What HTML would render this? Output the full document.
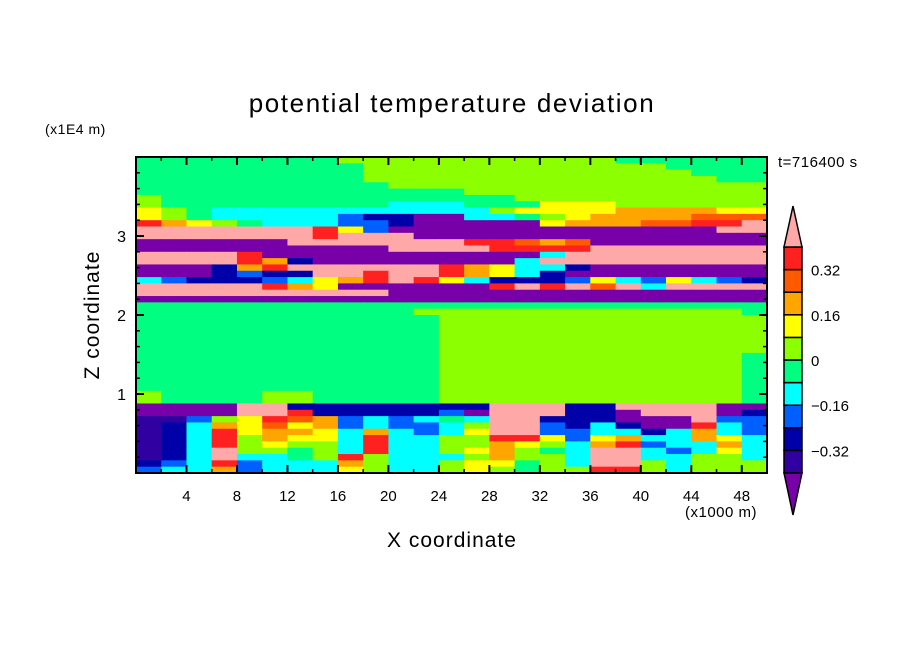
<!DOCTYPE html>
<html><head><meta charset="utf-8"><style>
body{margin:0;background:#fff;}
svg{display:block;font-family:"Liberation Sans",sans-serif;}
</style></head><body>
<svg id="chart" width="904" height="654" viewBox="0 0 904 654" xmlns="http://www.w3.org/2000/svg">
<rect width="904" height="654" fill="#fff"/>
<text x="452" y="112" text-anchor="middle" font-size="26" letter-spacing="1.6">potential temperature deviation</text>
<text x="45" y="134" font-size="14" letter-spacing="0.5">(x1E4 m)</text>
<text x="778" y="167" font-size="15" letter-spacing="0.5">t=716400 s</text>
<text transform="translate(99,315) rotate(-90)" text-anchor="middle" font-size="21" letter-spacing="1">Z coordinate</text>
<text x="452" y="547" text-anchor="middle" font-size="21" letter-spacing="1">X coordinate</text>
<text x="685" y="517" font-size="15" letter-spacing="0.5">(x1000 m)</text>
<g id="field"></g>
<g id="axes"></g>
<g id="cbar"></g>
</svg>
<script>
// ---- data ----
const xCategoriesKm = [0, 50];
const zRange = [0, 4];
const xTickLabels = [4, 8, 12, 16, 20, 24, 28, 32, 36, 40, 44, 48];
const yTickLabels = [1, 2, 3];
const levels = [-0.4, -0.32, -0.24, -0.16, -0.08, 0, 0.08, 0.16, 0.24, 0.32, 0.4];
const colorbarLabels = ["0.32", "0.16", "0", "\u22120.16", "\u22120.32"];
const colorbarLabelValues = [0.32, 0.16, 0, -0.16, -0.32];
const codeValues = {P:-0.45,I:-0.36,D:-0.28,B:-0.2,C:-0.12,G:-0.04,L:0.04,Y:0.12,O:0.2,R:0.28,E:0.36,K:0.45};
// grid rows top (z=4) to bottom (z=0), 25 columns of 2 km, 50 rows of 0.08
const fieldRows = [
"GGGGGGGGLLLLLLLLLLLGGGGGG",
"GGGGGGGGGLLLLLLLLLLLLGGGG",
"GGGGGGGGGLLLLLLLLLLLLLGGG",
"GGGGGGGGGLLLLLLLLLLLLLLGG",
"GGGGGGGGGGLLLLLLLLLLLLLLL",
"GGGGGGGGGGGGGLLLLLLLLLLLL",
"LGGGGGGGGGGGGGGLLLLLLLLLL",
"LGGGGGGGGGCCCGGGYYYLLLLLL",
"YLGCCCCCCCCCCCLYYYYOOOOYY",
"YLGCCCCCBDDPPCCGLYOOOORRR",
"EOYLGCCCBBDPPPPPYOOORREEK",
"KKKKKKKEYBPPPPPPPPPPPPPKK",
"KKKKKKKEKKKPPPPPPPPPPPPPP",
"PPPPPPKKKKKKKEERORPPPPPPP",
"PPPPPPPPPPKKKKEEEEKKKKKKK",
"KKKKEPPPPPPPPPPPCKKKKKKKK",
"KKKKEODPPPPPPPPCKKKKKKKKK",
"PPPDOEKKKKKKEOYCCDPPPPPPP",
"PPPDBDDKKEKKEOYCDPPPPPPPP",
"CBDDDBCYOEKEYCDDDBYCBYCBD",
"KKKKKEOYPPPPPPEKEKRKCKKKK",
"KKKKKKKKKKPPPPPPPPPPPPPPP",
"PPPPPPPPPPPPPPPPPPPPPPPPP",
"GGGGGGGGGGGGGGGGGGGGGGGGG",
"GGGGGGGGGGGLLLLLLLLLLLLLG",
"GGGGGGGGGGGGLLLLLLLLLLLLL",
"GGGGGGGGGGGGLLLLLLLLLLLLL",
"GGGGGGGGGGGGLLLLLLLLLLLLL",
"GGGGGGGGGGGGLLLLLLLLLLLLL",
"GGGGGGGGGGGGLLLLLLLLLLLLL",
"GGGGGGGGGGGGLLLLLLLLLLLLL",
"GGGGGGGGGGGGLLLLLLLLLLLLG",
"GGGGGGGGGGGGLLLLLLLLLLLLG",
"GGGGGGGGGGGGLLLLLLLLLLLLG",
"GGGGGGGGGGGGLLLLLLLLLLLLG",
"GGGGGGGGGGGGLLLLLLLLLLLLG",
"GGGGGGGGGGGGLLLLLLLLLLLLG",
"LGGGGLLGGGGGLLLLLLLLLLLLG",
"LGGGGLLGGGGGLLLLLLLLLLLLG",
"PPPPKKDDDDDDDDKKKDDKKKKPP",
"PPPPKKEDDDDDBPKKKDDPKKKPD",
"IIBLYEROBCBCGCKKDDDPPPKBB",
"IDCOYRYOBCBBCLKKBDCDPPECB",
"IDCEYOOYCOCBCYKKBBCCDCOCB",
"IDCELOYYCECCLLEEYBYOCCOYC",
"IDCELYLLCECCLLOYLCOEBCCOC",
"IDCKLLGLCECCLYOLGCKKCBCYC",
"IDCKCCGLELCCCLOLLCKKCCLLC",
"DBCEBCCCOLCCLYYGLCKKLCLLL",
"BCCOBCCCYLCCLYLGLLEELCLLL"
];
</script>
<script>
const NS = "http://www.w3.org/2000/svg";
const PL = 136, PR = 767, PT = 157, PB = 473;
const colors = ["#7800a8","#3000a0","#0000a8","#0060ff","#00ffff","#00ff80","#8cff00","#ffff00","#ffa500","#ff5a00","#ff2020","#ffa8a8"];
function xScale(v){return PL + (v - xCategoriesKm[0]) / (xCategoriesKm[1] - xCategoriesKm[0]) * (PR - PL);}
function yScale(v){return PB - (v - zRange[0]) / (zRange[1] - zRange[0]) * (PB - PT);}
function colorFor(v){let i=0;while(i<levels.length && v>=levels[i]) i++;return colors[i];}
function mk(tag, attrs, parent){const e=document.createElementNS(NS,tag);for(const k in attrs)e.setAttribute(k,attrs[k]);parent.appendChild(e);return e;}

const field = document.getElementById("field");
const nRows = fieldRows.length, nCols = fieldRows[0].length;
const dxKm = (xCategoriesKm[1]-xCategoriesKm[0])/nCols, dz = (zRange[1]-zRange[0])/nRows;
fieldRows.forEach((row, r) => {
  for (let c = 0; c < nCols; c++) {
    const v = codeValues[row[c]];
    const x0 = xScale(c*dxKm), x1 = xScale((c+1)*dxKm);
    const zTop = zRange[1] - r*dz, zBot = zTop - dz;
    const y0 = yScale(zTop), y1 = yScale(zBot);
    const rect = mk("rect", {x:x0.toFixed(2), y:y0.toFixed(2), width:(x1-x0+0.6).toFixed(2), height:(y1-y0+0.6).toFixed(2), fill:colorFor(v)}, field);
    
    
  }
});

const axes = document.getElementById("axes");
const frame = mk("rect", {x:PL, y:PT, width:PR-PL, height:PB-PT, fill:"none", stroke:"#000", "stroke-width":2}, axes);


for (let k = 2; k < 50; k += 2) {
  const x = xScale(k), major = (k % 4 === 0), L = major ? 8 : 4;
  const t1 = mk("line", {x1:x, x2:x, y1:PB, y2:PB-L, stroke:"#000", "stroke-width":major?2:1.5}, axes);
  
  
  const t2 = mk("line", {x1:x, x2:x, y1:PT, y2:PT+L, stroke:"#000", "stroke-width":major?2:1.5}, axes);
  
  
}
xTickLabels.forEach(v => {
  const t = mk("text", {x:xScale(v), y:501, "text-anchor":"middle", "font-size":15}, axes);
  t.textContent = v;
  
  
});
for (let k = 1; k < 20; k++) {
  const z = k*0.2, y = yScale(z), major = (k % 5 === 0), L = major ? 8 : 4;
  const t1 = mk("line", {x1:PL, x2:PL+L, y1:y, y2:y, stroke:"#000", "stroke-width":major?2:1.5}, axes);
  
  
  const t2 = mk("line", {x1:PR, x2:PR-L, y1:y, y2:y, stroke:"#000", "stroke-width":major?2:1.5}, axes);
  
  
}
yTickLabels.forEach(v => {
  const t = mk("text", {x:126, y:yScale(v)+6, "text-anchor":"end", "font-size":16}, axes);
  t.textContent = v;
  
  
});

const cb = document.getElementById("cbar");
const CX0 = 784, CX1 = 802, CT = 247, CB = 473, AT = 206, AB = 515;
const nBox = levels.length - 1, bh = (CB - CT) / nBox;
function cbY(v){return CB - (v - levels[0]) / (levels[levels.length-1]-levels[0]) * (CB - CT);}
for (let i = 0; i < nBox; i++) {
  const y0 = cbY(levels[i+1]);
  const b = mk("rect", {x:CX0, y:y0, width:CX1-CX0, height:bh, fill:colors[i+1], stroke:"#000", "stroke-width":1.5}, cb);
  
  
}
const up = mk("polygon", {points:`${CX0},${CT} ${CX1},${CT} ${(CX0+CX1)/2},${AT}`, fill:colors[11], stroke:"#000", "stroke-width":1.5}, cb);


const dn = mk("polygon", {points:`${CX0},${CB} ${CX1},${CB} ${(CX0+CX1)/2},${AB}`, fill:colors[0], stroke:"#000", "stroke-width":1.5}, cb);


colorbarLabels.forEach((s, i) => {
  const t = mk("text", {x:811, y:cbY(colorbarLabelValues[i])+6, "font-size":15}, cb);
  t.textContent = s;
  
  
});
</script>
</body></html>
